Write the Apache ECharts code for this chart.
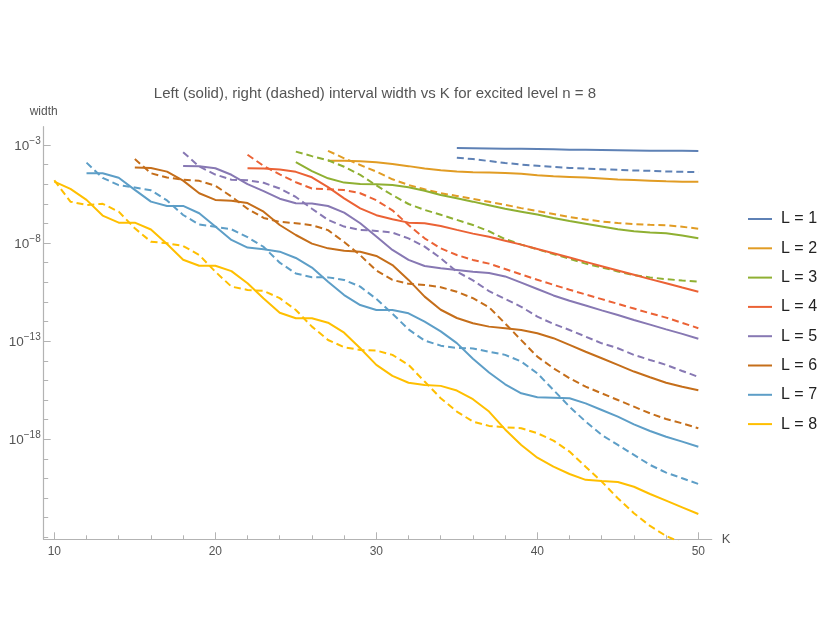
<!DOCTYPE html>
<html>
<head>
<meta charset="utf-8">
<script src="https://cdn.jsdelivr.net/npm/echarts@6/dist/echarts.min.js"></script>
<style>
  html, body { margin: 0; padding: 0; background: #fff; }
  #chart { width: 830px; height: 642px; }
</style>
</head>
<body>
<div id="chart"></div>
<script>
// log10 of interval width; each list runs from its start K up to K = 50
const levels = ['L = 1', 'L = 2', 'L = 3', 'L = 4', 'L = 5', 'L = 6', 'L = 7', 'L = 8'];
const kStart = [35, 27, 25, 22, 18, 15, 12, 10];
const colors = ['#5E81B5', '#E19C24', '#8FB032', '#EB6235', '#8778B3', '#C56E1A', '#5D9EC7', '#FFBF00'];

const L1_left = [-3.16, -3.17, -3.18, -3.19, -3.20, -3.21, -3.22, -3.24, -3.25, -3.26, -3.27, -3.28, -3.29, -3.29, -3.30, -3.31];
const L1_right = [-3.65, -3.72, -3.82, -3.92, -4.00, -4.06, -4.12, -4.17, -4.21, -4.24, -4.27, -4.30, -4.32, -4.35, -4.37, -4.39];

const L2_left = [-3.80, -3.80, -3.83, -3.88, -3.97, -4.08, -4.20, -4.29, -4.35, -4.39, -4.41, -4.43, -4.47, -4.55, -4.60, -4.63, -4.66, -4.71, -4.76, -4.79, -4.82, -4.85, -4.87, -4.87];
const L2_right = [-3.30, -3.68, -4.02, -4.36, -4.75, -5.04, -5.26, -5.46, -5.60, -5.75, -5.90, -6.05, -6.22, -6.37, -6.52, -6.67, -6.80, -6.90, -6.98, -7.03, -7.07, -7.09, -7.17, -7.27];

const L3_left = [-3.88, -4.33, -4.70, -4.92, -4.99, -5.00, -5.04, -5.16, -5.33, -5.55, -5.72, -5.89, -6.07, -6.25, -6.40, -6.55, -6.72, -6.88, -7.02, -7.16, -7.30, -7.40, -7.46, -7.50, -7.62, -7.76];
const L3_right = [-3.34, -3.57, -3.78, -4.11, -4.53, -5.06, -5.56, -6.01, -6.31, -6.56, -6.82, -7.08, -7.40, -7.80, -8.08, -8.32, -8.56, -8.80, -9.05, -9.24, -9.45, -9.64, -9.75, -9.84, -9.91, -9.97];

const L4_left = [-4.19, -4.20, -4.25, -4.37, -4.65, -5.15, -5.72, -6.23, -6.58, -6.79, -6.96, -6.99, -7.13, -7.33, -7.52, -7.68, -7.88, -8.08, -8.30, -8.52, -8.74, -8.96, -9.18, -9.40, -9.62, -9.84, -10.05, -10.27, -10.48];
const L4_right = [-3.50, -4.07, -4.50, -4.90, -5.22, -5.26, -5.30, -5.46, -5.82, -6.33, -7.08, -7.76, -8.27, -8.61, -8.86, -9.05, -9.32, -9.60, -9.87, -10.13, -10.38, -10.62, -10.86, -11.10, -11.34, -11.58, -11.80, -12.07, -12.34];

const L5_left = [-4.07, -4.08, -4.19, -4.52, -5.00, -5.35, -5.74, -5.97, -5.98, -6.11, -6.45, -6.99, -7.67, -8.35, -8.86, -9.17, -9.28, -9.37, -9.46, -9.53, -9.70, -10.02, -10.34, -10.67, -10.94, -11.18, -11.43, -11.67, -11.92, -12.16, -12.40, -12.63, -12.88];
const L5_right = [-3.37, -4.10, -4.51, -4.77, -4.80, -4.93, -5.22, -5.65, -6.25, -6.82, -7.16, -7.33, -7.38, -7.47, -7.76, -8.18, -8.77, -9.46, -9.90, -10.45, -10.85, -11.25, -11.75, -12.12, -12.43, -12.77, -13.11, -13.36, -13.70, -13.96, -14.21, -14.52, -14.82];

const L6_left = [-4.15, -4.18, -4.36, -4.82, -5.46, -5.80, -5.84, -5.96, -6.40, -7.08, -7.59, -8.03, -8.27, -8.39, -8.44, -8.66, -9.12, -9.88, -10.73, -11.40, -11.82, -12.09, -12.26, -12.34, -12.43, -12.60, -12.85, -13.19, -13.54, -13.87, -14.21, -14.55, -14.84, -15.12, -15.32, -15.50];
const L6_right = [-3.72, -4.44, -4.66, -4.77, -4.83, -5.08, -5.63, -6.25, -6.72, -6.92, -6.99, -7.09, -7.34, -7.95, -8.62, -9.40, -9.88, -10.08, -10.14, -10.25, -10.48, -10.81, -11.27, -12.10, -12.95, -13.79, -14.38, -14.89, -15.32, -15.66, -16.00, -16.34, -16.68, -16.97, -17.19, -17.44];

const L7_left = [-4.44, -4.44, -4.67, -5.29, -5.89, -6.11, -6.11, -6.48, -7.16, -7.84, -8.23, -8.32, -8.44, -8.76, -9.25, -9.97, -10.65, -11.16, -11.41, -11.41, -11.58, -12.01, -12.50, -13.10, -13.90, -14.60, -15.20, -15.66, -15.86, -15.88, -15.91, -16.17, -16.51, -16.85, -17.24, -17.58, -17.87, -18.12, -18.38];
const L7_right = [-3.90, -4.68, -5.05, -5.17, -5.31, -5.83, -6.57, -7.06, -7.17, -7.30, -7.70, -8.20, -9.00, -9.55, -9.74, -9.75, -9.88, -10.22, -10.85, -11.60, -12.40, -12.97, -13.23, -13.35, -13.37, -13.54, -13.70, -14.04, -14.64, -15.49, -16.34, -17.10, -17.78, -18.29, -18.80, -19.31, -19.70, -19.99, -20.28];

const L8_left = [-4.87, -5.24, -5.80, -6.60, -6.96, -6.96, -7.31, -8.05, -8.85, -9.16, -9.16, -9.43, -10.05, -10.83, -11.55, -11.83, -11.83, -12.06, -12.57, -13.36, -14.21, -14.77, -15.12, -15.23, -15.28, -15.52, -15.96, -16.59, -17.50, -18.29, -18.94, -19.40, -19.77, -20.07, -20.13, -20.18, -20.42, -20.79, -21.13, -21.47, -21.81];
const L8_right = [-4.80, -5.89, -6.06, -6.00, -6.40, -7.25, -7.93, -8.01, -8.15, -8.61, -9.46, -10.22, -10.39, -10.44, -10.81, -11.41, -12.26, -12.94, -13.31, -13.45, -13.48, -13.70, -14.21, -15.06, -15.91, -16.59, -17.10, -17.32, -17.39, -17.44, -17.69, -18.07, -18.63, -19.40, -20.16, -21.01, -21.77, -22.42, -22.93, -23.30, -23.60];

const leftWidths = [L1_left, L2_left, L3_left, L4_left, L5_left, L6_left, L7_left, L8_left];
const rightWidths = [L1_right, L2_right, L3_right, L4_right, L5_right, L6_right, L7_right, L8_right];

// ticks
const xMajor = [10, 20, 30, 40, 50];
const xMinor = [12, 14, 16, 18, 22, 24, 26, 28, 32, 34, 36, 38, 42, 44, 46, 48];
const yMajor = [-3, -8, -13, -18];
const yMinor = [-23, -22, -21, -20, -19, -17, -16, -15, -14, -12, -11, -10, -9, -7, -6, -5, -4];

const FONT = '"Liberation Sans", Arial, Helvetica, sans-serif';
const AXIS_GREY = '#b3b3b3';
const TEXT_GREY = '#555555';

const chart = echarts.init(document.getElementById('chart'));

function toPoints(start, arr) {
  return arr.map((v, i) => [start + i, v]);
}

const series = [];
for (let i = 0; i < levels.length; i++) {
  series.push({
    name: levels[i],
    type: 'line',
    symbol: 'none',
    showSymbol: false,
    data: toPoints(kStart[i], leftWidths[i]),
    lineStyle: { color: colors[i], width: 2 },
    itemStyle: { color: colors[i] },
    z: 3
  });
  series.push({
    name: levels[i] + ' (right)',
    type: 'line',
    symbol: 'none',
    showSymbol: false,
    data: toPoints(kStart[i], rightWidths[i]),
    lineStyle: { color: colors[i], width: 2, type: [7, 4] },
    itemStyle: { color: colors[i] },
    z: 3
  });
}

const xRange = { min: 9.34, max: 50.83 };
const yRange = { min: -23.1, max: -2.07 };

chart.setOption({
  animation: false,
  backgroundColor: '#ffffff',
  textStyle: { fontFamily: FONT },
  title: {
    text: 'Left (solid), right (dashed) interval width vs K for excited level n = 8',
    left: 370,
    top: 81,
    textAlign: 'center',
    textStyle: { fontFamily: FONT, fontSize: 15, fontWeight: 'normal', color: TEXT_GREY }
  },
  legend: {
    data: levels,
    orient: 'vertical',
    left: 743,
    top: 206,
    // plain short line as the key, like the reference
    icon: 'path://M0,0 H24 V2 H0 Z',
    itemWidth: 24,
    itemHeight: 16,
    itemGap: 13.3,
    textStyle: { fontFamily: FONT, fontSize: 16, color: '#222222', padding: [0, 0, 0, 4] }
  },
  grid: { left: 43.7, right: 118.3, top: 126.7, bottom: 102.7 },
  xAxis: [
    {
      type: 'value',
      position: 'bottom',
      min: xRange.min,
      max: xRange.max,
      name: 'K',
      nameLocation: 'end',
      nameGap: 10,
      nameTextStyle: { fontFamily: FONT, fontSize: 13, color: TEXT_GREY },
      axisLine: { show: true, lineStyle: { color: AXIS_GREY, width: 1.2 } },
      axisTick: { show: true, inside: true, length: 7, customValues: xMajor, lineStyle: { color: AXIS_GREY } },
      axisLabel: { customValues: xMajor, margin: 6, fontFamily: FONT, fontSize: 12, color: TEXT_GREY },
      splitLine: { show: false }
    },
    {
      type: 'value',
      position: 'bottom',
      min: xRange.min,
      max: xRange.max,
      axisLine: { show: false },
      axisTick: { show: true, inside: true, length: 4, customValues: xMinor, lineStyle: { color: AXIS_GREY } },
      axisLabel: { show: false },
      splitLine: { show: false }
    }
  ],
  yAxis: [
    {
      type: 'value',
      position: 'left',
      min: yRange.min,
      max: yRange.max,
      name: 'width',
      nameLocation: 'end',
      nameGap: 9,
      nameTextStyle: { fontFamily: FONT, fontSize: 12, color: TEXT_GREY, align: 'center' },
      axisLine: { show: true, lineStyle: { color: AXIS_GREY, width: 1.2 } },
      axisTick: { show: true, inside: true, length: 7, customValues: yMajor, lineStyle: { color: AXIS_GREY } },
      axisLabel: {
        customValues: yMajor,
        margin: 3,
        formatter: v => '{b|10}{s|\u2212' + Math.abs(v) + '}',
        rich: {
          b: { fontFamily: FONT, fontSize: 13.5, color: TEXT_GREY, padding: [3, 0, 0, 0] },
          s: { fontFamily: FONT, fontSize: 10, color: TEXT_GREY, padding: [0, 0, 7, 0] }
        }
      },
      splitLine: { show: false }
    },
    {
      type: 'value',
      position: 'left',
      min: yRange.min,
      max: yRange.max,
      axisLine: { show: false },
      axisTick: { show: true, inside: true, length: 4.5, customValues: yMinor, lineStyle: { color: AXIS_GREY } },
      axisLabel: { show: false },
      splitLine: { show: false }
    }
  ],
  series: series
});
</script>
</body>
</html>
